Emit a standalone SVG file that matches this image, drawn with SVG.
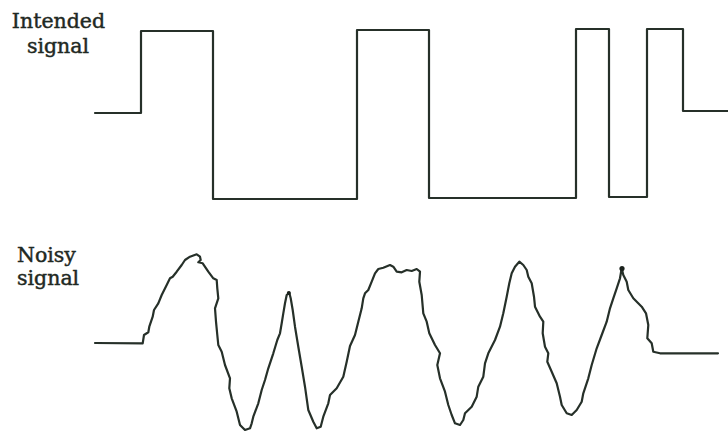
<svg xmlns="http://www.w3.org/2000/svg" width="728" height="432" viewBox="0 0 728 432">
<style>
.lbl{font-family:"DejaVu Serif","Liberation Serif",serif;font-size:20.5px;fill:#1f2923;stroke:#1f2923;stroke-width:0.45}
.wave{fill:none;stroke:#263029;stroke-width:2.2;stroke-linejoin:round;stroke-linecap:round}
</style>
<rect width="728" height="432" fill="#ffffff"/>
<g id="intended-label">
<text class="lbl" x="58.5" y="28" text-anchor="middle">Intended</text>
<text class="lbl" x="58" y="53" text-anchor="middle">signal</text>
</g>
<g id="intended-signal">
<path class="wave" d="M95,113 H141 V31 H213 V199 H357 V30 H429 V198 H576 V29 H609 V197 H647 V29 H683 V111 H728"/>
</g>
<g id="noisy-label">
<text class="lbl" x="17" y="262">Noisy</text>
<text class="lbl" x="17" y="285">signal</text>
</g>
<g id="noisy-signal">
<polyline class="wave" points="95,343 142.7,343.3 144,335 148.3,332.3 149.3,326.7 152.7,316.7 154,310 158.3,303.3 161.7,295 166.7,285 170,278.3 172.7,276.7 176.7,271.7 181.7,265 185,260 190,256.7 196.7,254.3 200,256.7 200.7,260 198.3,262.3 202.7,263.3 208.3,271.7 213.3,278.3 216.7,280 217.3,288.3 218.3,298.3 215,308.3 216,321.7 217.3,335 218.3,345 221.7,351.7 225,365 230,378.3 229.3,388.3 231.7,398.3 236.7,411.7 240,425 245,430 250,428.3 251.7,423.3 253.3,416.7 258.3,403.3 261.7,390 265,380 268.3,368.3 273.3,353.3 277.3,340 280,333.3 281.7,323.3 283.3,313.3 285,303.3 286.7,295 289.3,292.7 290.7,298.3 292.7,310 295,326.7 298.3,346.7 301.7,366.7 305,386.7 308.3,410 313.3,421.7 316.7,428.3 320.7,426.7 323.3,416.7 328.3,403.3 330,395 336.7,388.3 343.3,376.7 346.7,361.7 350,346 355,335 358.3,321.7 361.7,308.3 363.3,298.3 365,293.3 368.3,290 371.7,281.7 375,273.3 378.3,269 383.3,267.7 390,265 393.3,266.7 396.7,271.7 401.7,272.3 406.7,270 411.7,271 416.7,269 420,271.7 419.3,281.7 421.7,295 423.3,313.3 426.7,321.7 429.3,333.3 435,345 440,353.3 437.3,365 440,378.3 445,391.7 448.3,405 451.7,415 455,423.3 460,425 463.3,420 465,413.3 471.7,406.7 476.7,396.7 478.3,386.7 483.3,376.7 485,363.3 488.3,353.3 495,340 500,326.7 503.3,313.3 506.7,296.7 509.3,283.3 511.7,273.3 515,266.7 519.3,261.7 523.3,265 526.7,270 528.3,276.7 531.7,283.3 534,296.7 535,306.7 540,316.7 543.3,321.7 542.7,333.3 545,346.7 548.3,353.3 547.3,361.7 551.7,371.7 556.7,383.3 560,396.7 561.7,405 566.7,413.3 571.7,415 576.7,410 581.7,401.7 583.3,393.3 588.3,378.3 591.7,365 596.7,348.3 601.7,335 606.7,321.7 610,308.3 613.3,298.3 616.7,288.3 620,278.3 621.7,268.3 623.3,275 626.7,281.7 628.3,290 633.3,298.3 641.7,306.7 646,313.3 648.3,325 647.3,338.3 651.7,343.3 653.3,351.7 660,353.3 718,353.3"/>
<circle cx="622" cy="268.5" r="2.6" fill="#1a211c"/>
<circle cx="288.8" cy="293" r="2" fill="#1a211c"/>
</g>
</svg>
